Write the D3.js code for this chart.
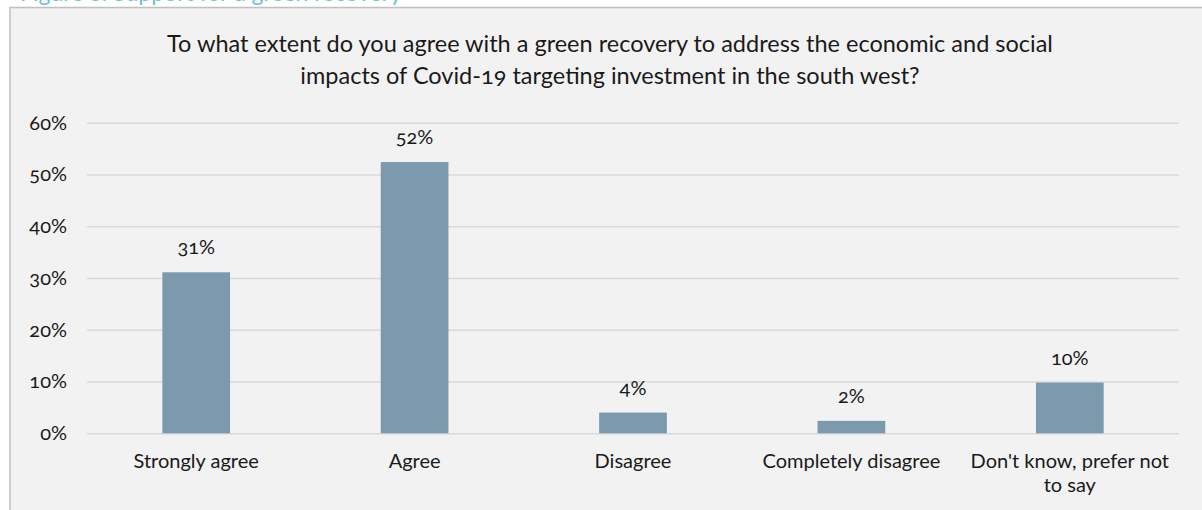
<!DOCTYPE html>
<html>
<head>
<meta charset="utf-8">
<script src="https://cdn.jsdelivr.net/npm/d3@7"></script>
<style>
  html, body { margin: 0; padding: 0; background: #ffffff; }
  svg { display: block; font-family: "Lato", "Open Sans", sans-serif; font-variant-numeric: oldstyle-nums; font-feature-settings: "onum" 1; }
</style>
</head>
<body>
<svg id="chart" width="1202" height="510"></svg>
<script>
// Survey responses (share of respondents)
const categories = ["Strongly agree", "Agree", "Disagree", "Completely disagree", "Don't know, prefer not to say"];
const values = [0.311, 0.524, 0.040, 0.024, 0.098];
const yTicks = [0, 0.1, 0.2, 0.3, 0.4, 0.5, 0.6];
const titleLines = [
  "To what extent do you agree with a green recovery to address the economic and social",
  "impacts of Covid-19 targeting investment in the south west?"
];
const captionText = "Figure 6: Support for a green recovery";

const svg = d3.select("#chart");
const W = 1202, H = 510;
const textColor = "#1a1a1a";

// Caption above the chart frame (runs off the top of the page)
svg.append("text")
  .attr("x", 20).attr("y", 1)
  .attr("font-size", 23)
  .attr("fill", "#6cc2d4")
  .text(captionText);

// Chart frame
svg.append("rect")
  .attr("x", 10).attr("y", 7.5)
  .attr("width", W + 20).attr("height", H)
  .attr("fill", "#f2f2f2")
  .attr("stroke", "#c0c0c0")
  .attr("stroke-width", 1.5);

const plot = { left: 87, right: 1179, top: 122.7, bottom: 433.3 };

const x = d3.scaleBand()
  .domain(categories)
  .range([plot.left, plot.right])
  .paddingInner(0.69)
  .paddingOuter(0.345);

const y = d3.scaleLinear()
  .domain([0, 0.6])
  .range([plot.bottom, plot.top]);

// Title
const title = svg.append("text")
  .attr("text-anchor", "middle")
  .attr("font-size", 23.5)
  .attr("fill", textColor);
titleLines.forEach((line, i) => {
  title.append("tspan")
    .attr("x", 610)
    .attr("y", 52 + i * 31.5)
    .text(line);
});

// Gridlines and y-axis labels
const yAxis = d3.axisLeft(y)
  .tickValues(yTicks)
  .tickSize(-(plot.right - plot.left))
  .tickPadding(20)
  .tickFormat(d3.format(".0%"));

const gy = svg.append("g")
  .attr("transform", `translate(${plot.left},0)`)
  .call(yAxis);
gy.select(".domain").remove();
gy.selectAll(".tick line")
  .attr("stroke", "#d9d9d9")
  .attr("stroke-width", 1.5);
gy.selectAll(".tick text")
  .attr("font-size", 20)
  .attr("fill", textColor)
  .attr("font-family", "Lato, sans-serif");

// Bars
svg.append("g")
  .selectAll("rect")
  .data(categories)
  .join("rect")
  .attr("x", d => x(d))
  .attr("width", x.bandwidth())
  .attr("y", (d, i) => y(values[i]))
  .attr("height", (d, i) => y(0) - y(values[i]))
  .attr("fill", "#7b9aae");

// Value labels
svg.append("g")
  .selectAll("text")
  .data(categories)
  .join("text")
  .attr("x", d => x(d) + x.bandwidth() / 2)
  .attr("y", (d, i) => y(values[i]) - 18)
  .attr("text-anchor", "middle")
  .attr("font-size", 20)
  .attr("fill", textColor)
  .text((d, i) => d3.format(".0%")(values[i]));

// Category labels, wrapped where too wide for one line
const xAxis = d3.axisBottom(x).tickSize(0).tickPadding(0);
const gx = svg.append("g")
  .attr("transform", `translate(0,${plot.bottom})`)
  .call(xAxis);
gx.select(".domain").remove();
gx.selectAll(".tick text").remove();
gx.selectAll(".tick").each(function(d) {
  const t = d3.select(this).append("text")
    .attr("text-anchor", "middle")
    .attr("font-size", 20)
    .attr("fill", textColor)
    .attr("font-family", "Lato, sans-serif");
  const lines = d.length > 22 ? [d.replace(/ to say$/, ""), "to say"] : [d];
  lines.forEach((ln, i) => {
    t.append("tspan").attr("x", 0).attr("y", 35 + i * 24).text(ln);
  });
});
</script>
</body>
</html>
